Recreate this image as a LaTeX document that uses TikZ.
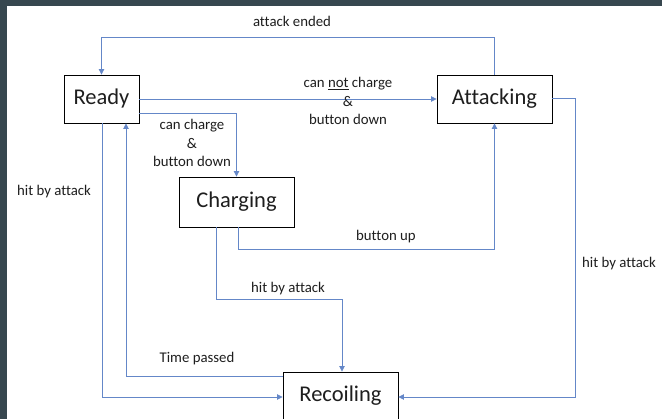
\documentclass[tikz,border=0pt]{standalone}
\usepackage{fontspec}
\setmainfont{Carlito}[Ligatures=NoCommon]
\usetikzlibrary{arrows.meta}
\definecolor{frame}{RGB}{55,71,79}
\definecolor{conn}{RGB}{100,135,200}
\definecolor{txt}{RGB}{30,30,30}
\tikzset{
  statebox/.style={draw=black, line width=0.9pt, fill=white, inner sep=0pt,
    minimum width=115pt, minimum height=48pt, text=txt,
    font=\fontsize{22.5}{26}\selectfont},
  connline/.style={draw=conn, line width=0.8pt,
    -{Triangle[width=5.5pt,length=5.5pt]}},
  lbl/.style={text=txt, align=center, inner sep=0pt,
    font=\fontsize{14.8}{18.5}\selectfont}
}
\begin{document}
\begin{tikzpicture}[x=1pt,y=-1pt]
\useasboundingbox (0,0) rectangle (662,419);
\fill[frame] (0,0) rectangle (662,419);
\fill[white] (7,6) rectangle (662,419);
\clip (7,6) rectangle (662,419);

\node[statebox, minimum width=75pt] (ready) at (101.5,99) {Ready};
\node[statebox] (att) at (494.5,99) {Attacking};
\node[statebox, minimum height=50pt] (chg) at (236.5,202) {Charging};
\node[statebox] (rec) at (340.5,396) {Recoiling};

% attack ended
\draw[connline] (att.north) -- ++(0,-37) -| (ready.north);
\node[lbl] (l1) at (292,21) {attack ended};

% can not charge
\draw[connline] (ready.east) -- (att.west);
\node[lbl] (l2) at (348,101) {can \underline{not} charge\\\&\\button down};

% can charge
\draw[connline] ([yshift=-14pt]ready.east) -| (chg.north);
\node[lbl] (l3) at (192,143) {can charge\\\&\\button down};

% button up
\draw[connline] ([xshift=1.5pt]chg.south) -- ++(0,22) -| (att.south);
\node[lbl] (l4) at (386,237) {button up};

% charging hit by attack
\draw[connline] ([xshift=-20.5pt]chg.south) -- ++(0,72) -| ([xshift=1.5pt]rec.north);
\node[lbl] (l5) at (288,289) {hit by attack};

% time passed
\draw[connline] ([yshift=20pt]rec.west) -| ([xshift=24.5pt]ready.south);
\node[lbl] (l6) at (197,359) {Time passed};

% ready hit by attack
\draw[connline] ([xshift=0.5pt]ready.south) |- ([yshift=-1pt]rec.west);
\node[lbl] (l7) at (54,192) {hit by attack};

% attacking hit by attack
\draw[connline] ([yshift=1pt]att.east) -- ++(23,0) |- ([yshift=-1pt]rec.east);
\node[lbl] (l8) at (619,264) {hit by attack};
\end{tikzpicture}
\end{document}
